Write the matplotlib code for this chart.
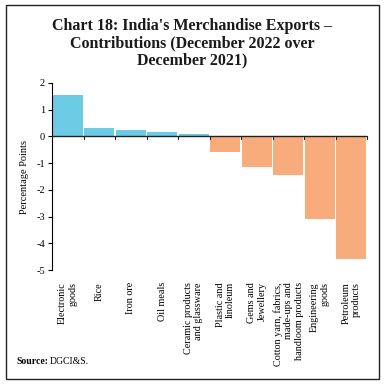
import matplotlib.pyplot as plt
from matplotlib.patches import Rectangle

categories = ["Electronic\ngoods", "Rice", "Iron ore", "Oil meals",
              "Ceramic products\nand glassware", "Plastic and\nlinoleum",
              "Gems and\nJewellery",
              "Cotton yarn, fabrics,\nmade-ups and\nhandloom products",
              "Engineering\ngoods", "Petroleum\nproducts"]
values = [1.56, 0.30, 0.25, 0.16, 0.08, -0.57, -1.15, -1.46, -3.10, -4.60]
yticks = [2, 1, 0, -1, -2, -3, -4, -5]

plt.rcParams['font.family'] = ['Liberation Serif', 'DejaVu Serif']

fig = plt.figure(figsize=(3.84, 3.85), dpi=100)
ax = fig.add_axes([52 / 384, 1 - 270 / 385, (367 - 52) / 384, (270 - 83) / 385])

colors = ["#6ccbe4" if v >= 0 else "#f9ac7b" for v in values]
x = range(len(values))
ax.bar(x, values, width=0.94, color=colors, zorder=2)

ax.set_xlim(-0.5, len(values) - 0.5)
ax.set_ylim(-5, 2)
ax.set_yticks(yticks)
ax.set_yticklabels([str(t) for t in yticks], fontsize=7.5)
ax.set_ylabel("Percentage Points", fontsize=7.5, labelpad=5)
ax.tick_params(axis='y', length=3, width=0.8, pad=2)

for s in ['top', 'right', 'bottom']:
    ax.spines[s].set_visible(False)
ax.spines['left'].set_linewidth(0.8)
ax.axhline(0, color='#222222', lw=1.0, zorder=3)

# boundary ticks on the zero line
ax.set_xticks([])
for b in range(1, len(values) + 1):
    ax.plot([b - 0.5, b - 0.5], [0, -0.1], color='#222222', lw=0.8,
            zorder=3, clip_on=False)

# category labels under the plot
for i, lab in enumerate(categories):
    ax.text(i, -5.45, lab, rotation=90, ha='center', va='top',
            fontsize=7.3, multialignment='right')

fig.text(0.5, 1 - 18 / 385,
         "Chart 18: India's Merchandise Exports \u2013\n"
         "Contributions (December 2022 over\nDecember 2021)",
         ha='center', va='top', fontsize=11.5, fontweight='bold',
         linespacing=1.12, color='#1a1a1a')

src = fig.text(16 / 384, 1 - 362 / 385, "Source:", fontsize=7,
               fontweight='bold', va='center')
fig.canvas.draw()
bb = src.get_window_extent(fig.canvas.get_renderer())
fig.text(bb.x1 / 384 + 2 / 384, 1 - 362 / 385, "DGCI&S.", fontsize=7,
         va='center')

fig.patches.append(Rectangle((6 / 384, 6 / 385), 373 / 384, 374 / 385,
                             transform=fig.transFigure, fill=False,
                             edgecolor='#222222', lw=1.0))

fig.savefig("out.png", dpi=100)
